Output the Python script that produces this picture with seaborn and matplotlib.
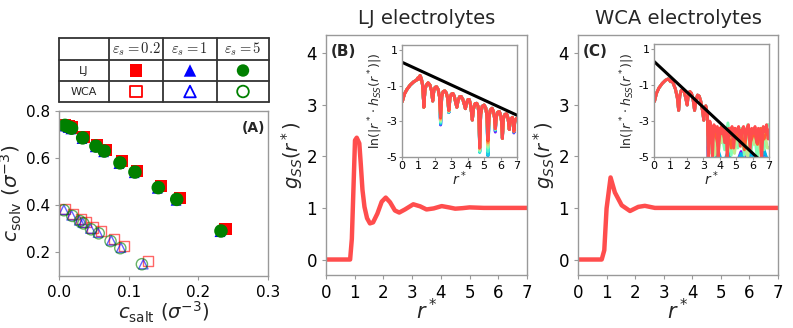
import numpy as np
import pandas as pd
import matplotlib
matplotlib.use('Agg')
import matplotlib.pyplot as plt
import seaborn as sns

# ---------------- data ----------------
# panel A: solvent vs salt concentration
lj_x_02 = [0.009, 0.014, 0.019, 0.036, 0.055, 0.068, 0.091, 0.112, 0.146, 0.173, 0.239]
lj_y_02 = [0.742, 0.736, 0.730, 0.690, 0.655, 0.635, 0.586, 0.546, 0.481, 0.432, 0.300]
lj_x_1 = [0.008, 0.013, 0.017, 0.033, 0.052, 0.064, 0.086, 0.108, 0.141, 0.168, 0.231]
lj_y_1 = [0.736, 0.730, 0.724, 0.683, 0.648, 0.627, 0.577, 0.538, 0.472, 0.421, 0.288]
lj_x_5 = [0.0086, 0.0134, 0.018, 0.034, 0.053, 0.065, 0.0875, 0.109, 0.1425, 0.169, 0.2325]
lj_y_5 = [0.739, 0.733, 0.727, 0.686, 0.651, 0.630, 0.580, 0.541, 0.475, 0.425, 0.291]

wca_x_02 = [0.009, 0.020, 0.032, 0.038, 0.048, 0.060, 0.079, 0.093, 0.128]
wca_y_02 = [0.385, 0.362, 0.341, 0.330, 0.306, 0.290, 0.258, 0.226, 0.163]
wca_x_1 = [0.007, 0.018, 0.029, 0.034, 0.045, 0.056, 0.075, 0.089, 0.121]
wca_y_1 = [0.381, 0.357, 0.336, 0.326, 0.301, 0.284, 0.251, 0.220, 0.150]
wca_x_5 = [0.007, 0.019, 0.030, 0.035, 0.046, 0.057, 0.074, 0.088, 0.119]
wca_y_5 = [0.379, 0.355, 0.333, 0.323, 0.298, 0.281, 0.248, 0.218, 0.150]

eps_labels = [r'$\boldsymbol{\varepsilon}_s = 0.2$', r'$\boldsymbol{\varepsilon}_s = 1$',
              r'$\boldsymbol{\varepsilon}_s = 5$']
row_labels = ['LJ', 'WCA']
eps_colors = ['red', 'blue', 'green']
eps_markers = ['s', '^', 'o']

# panel B: g(r) for LJ
g_lj_r = [0.0, 0.84, 0.90, 1.01, 1.07, 1.16, 1.21, 1.27, 1.34, 1.43, 1.53, 1.64, 1.79, 1.94, 2.08,
          2.23, 2.40, 2.55, 2.75, 3.04, 3.28, 3.50, 3.75, 4.03, 4.28, 4.50, 4.75, 5.0, 5.5, 6.0, 7.0]
g_lj_g = [0.0, 0.0, 0.40, 2.31, 2.36, 2.25, 1.86, 1.35, 1.02, 0.80, 0.70, 0.72, 0.89, 1.12, 1.20,
          1.11, 0.95, 0.91, 0.97, 1.07, 1.03, 0.97, 0.99, 1.035, 1.01, 0.985, 0.995, 1.01, 1.0, 1.0, 1.0]

# panel C: g(r) for WCA
g_wca_r = [0.0, 0.83, 0.92, 1.00, 1.14, 1.29, 1.53, 1.82, 2.11, 2.34, 2.69, 3.0, 4.0, 7.0]
g_wca_g = [0.0, 0.0, 0.18, 0.99, 1.59, 1.30, 1.05, 0.94, 1.02, 1.04, 1.0, 1.0, 1.0, 1.0]

# inset B: ln|r h(r)| for LJ (top curve)
ln_lj_r = [0.02, 0.15, 0.3, 0.5, 0.7, 0.9, 0.97, 1.02, 1.1, 1.18, 1.26, 1.33, 1.40, 1.48, 1.59,
           1.70, 1.79, 1.87, 1.94, 2.02, 2.10, 2.20, 2.28, 2.35, 2.42, 2.50, 2.60, 2.70, 2.78,
           2.85, 2.92, 3.0, 3.10, 3.19, 3.27, 3.34, 3.41, 3.50, 3.60, 3.70, 3.78, 3.86, 3.93,
           4.02, 4.10, 4.18, 4.23, 4.28, 4.35, 4.45, 4.55, 4.63, 4.68, 4.73, 4.79, 4.88, 5.0,
           5.10, 5.17, 5.23, 5.30, 5.38, 5.48, 5.57, 5.63, 5.68, 5.74, 5.83, 5.93, 6.02, 6.07,
           6.11, 6.17, 6.27, 6.37, 6.45, 6.49, 6.53, 6.60, 6.72, 6.77, 6.81, 6.86, 6.94, 7.0]
ln_lj_v = [-1.88, -1.45, -1.2, -0.95, -0.78, -0.66, -0.55, -0.62, -0.42, -0.6, -1.0, -2.2, -1.2,
           -0.95, -0.83, -0.95, -1.25, -1.85, -1.25, -1.08, -1.05, -1.2, -1.6, -2.73, -1.6, -1.33,
           -1.28, -1.4, -1.7, -2.38, -1.7, -1.47, -1.43, -1.6, -1.95, -2.2, -1.85, -1.62, -1.6,
           -1.75, -2.0, -2.28, -1.95, -1.77, -1.78, -2.1, -2.5, -2.92, -2.3, -2.0, -1.98, -2.15,
           -2.6, -4.5, -2.6, -2.15, -2.08, -2.25, -2.7, -4.0, -2.75, -2.35, -2.26, -2.45, -2.8,
           -3.4, -2.75, -2.48, -2.45, -2.7, -3.1, -3.95, -2.85, -2.6, -2.58, -2.8, -3.1, -3.45,
           -2.9, -2.77, -3.05, -3.55, -3.05, -2.85, -2.82]
lj_dip_r = [2.35, 2.85, 4.73, 5.23, 5.68, 6.81]
lj_dip_v = [
    [-3.20, -3.18, -3.15, -3.10, -3.05, -3.00, -2.95, -2.90, -2.85, -2.80],
    [-2.50, -2.50, -2.50, -2.48, -2.47, -2.45, -2.43, -2.41, -2.40, -2.38],
    [-4.60, -4.65, -4.70, -4.75, -4.70, -4.65, -4.60, -4.55, -4.50, -4.48],
    [-4.70, -4.85, -4.95, -4.90, -4.70, -4.50, -4.40, -4.30, -4.20, -4.10],
    [-3.60, -3.55, -3.50, -3.48, -3.45, -3.45, -3.42, -3.42, -3.40, -3.40],
    [-3.65, -3.62, -3.60, -3.58, -3.56, -3.55, -3.55, -3.55, -3.55, -3.55],
]
lj_fit_r = [0.0, 7.0]
lj_fit_v = [0.33, -2.65]

# inset C: ln|r h(r)| for WCA (top curve)
ln_wca_r = [0.03, 0.15, 0.3, 0.5, 0.7, 0.85, 0.95, 1.0, 1.05, 1.15, 1.3, 1.42, 1.5, 1.57, 1.65,
            1.75, 1.85, 1.95, 2.02, 2.08, 2.18, 2.28, 2.38, 2.47, 2.55, 2.65, 2.75, 2.85, 2.95,
            3.03, 3.1, 3.15, 3.25, 3.3, 3.4, 3.5, 3.55, 3.65, 3.75, 3.85, 3.9, 4.0, 4.1, 4.2,
            4.3, 4.4, 4.45, 4.55, 4.65, 4.75, 4.85, 4.95, 5.05, 5.15, 5.25, 5.35, 5.45, 5.55,
            5.65, 5.75, 5.85, 5.95, 6.05, 6.15, 6.25, 6.35, 6.45, 6.55, 6.65, 6.75, 6.85, 6.95, 7.0]
ln_wca_v = [-1.9, -1.45, -1.15, -0.9, -0.72, -0.65, -0.72, -0.8, -0.72, -0.85, -1.2, -1.7, -2.4,
            -1.6, -1.3, -1.22, -1.4, -1.8, -2.1, -1.6, -1.35, -1.45, -1.8, -2.4, -1.85, -1.55,
            -1.6, -1.9, -2.4, -2.95, -2.3, -2.15, -2.6, -5.2, -3.0, -3.4, -5.2, -3.2, -3.6, -3.3,
            -5.2, -3.4, -3.7, -3.3, -4.2, -3.5, -5.2, -3.4, -3.8, -3.3, -4.5, -3.4, -3.6, -3.3,
            -4.4, -3.5, -3.3, -4.0, -3.4, -3.2, -4.6, -3.4, -3.7, -3.3, -4.2, -3.4, -3.5, -5.2,
            -3.3, -3.6, -3.2, -4.0, -3.5]
wca_noise_r = [3.3, 3.5, 3.7, 3.9, 4.1, 4.3, 4.5, 4.7, 4.9, 5.1, 5.3, 5.5, 5.7, 5.9, 6.1, 6.3,
               6.5, 6.7, 6.9]
wca_noise_idx = [0, 2, 4, 5, 7]
wca_noise_v = [
    [-5.2, -5.2, -5.2, -5.2, -5.2, -5.2, -5.2, -5.2, -5.2, -5.2, -4.7, -5.2, -4.8, -5.2, -5.2, -5.2, -5.2, -4.7, -5.2],
    [-5.2, -5.2, -5.2, -4.6, -5.2, -5.2, -4.7, -5.2, -5.2, -5.2, -4.8, -5.2, -5.2, -4.7, -5.2, -5.2, -5.2, -4.6, -5.2],
    [-3.6, -4.8, -3.4, -4.9, -3.5, -4.6, -3.1, -4.9, -3.6, -4.5, -3.4, -4.9, -3.2, -4.7, -3.5, -5.2, -3.4, -4.6, -3.2],
    [-4.4, -3.5, -4.9, -3.6, -4.2, -3.4, -4.7, -3.7, -4.8, -3.5, -4.4, -3.6, -5.1, -3.5, -4.3, -3.7, -4.8, -3.4, -4.5],
    [-3.8, -4.2, -3.5, -4.4, -3.3, -4.0, -3.6, -4.5, -3.4, -3.9, -3.5, -4.6, -3.3, -4.1, -3.6, -4.3, -3.4, -4.0, -3.5],
]
wca_fit_r = [0.0, 7.0]
wca_fit_v = [0.33, -5.64]

# ---------------- style ----------------
sns.set_style('white')
plt.rcParams['font.family'] = ['DejaVu Sans']
plt.rcParams['axes.unicode_minus'] = False
plt.rcParams['axes.edgecolor'] = '#999999'
plt.rcParams['axes.linewidth'] = 1.0
plt.rcParams['xtick.bottom'] = True
plt.rcParams['ytick.left'] = True
plt.rcParams['xtick.color'] = '#999999'
plt.rcParams['ytick.color'] = '#999999'
plt.rcParams['xtick.labelcolor'] = 'black'
plt.rcParams['ytick.labelcolor'] = 'black'
plt.rcParams['xtick.major.size'] = 3
plt.rcParams['ytick.major.size'] = 3

W, H = 793, 328
fig = plt.figure(figsize=(W / 100, H / 100), dpi=100)


def box(l, t, r, b):
    return [l / W, 1 - b / H, (r - l) / W, (b - t) / H]


red_line = '#ff4d4d'

# ---------------- panel A ----------------
axA = fig.add_axes(box(59, 111, 268, 276))
lj_sets = [(lj_x_02, lj_y_02), (lj_x_1, lj_y_1), (lj_x_5, lj_y_5)]
wca_sets = [(wca_x_02, wca_y_02), (wca_x_1, wca_y_1), (wca_x_5, wca_y_5)]
sizes_f = [75, 60, 95]
sizes_o = [55, 45, 65]
for (xs, ys), c, m, s in zip(wca_sets, eps_colors, eps_markers, sizes_o):
    sns.scatterplot(x=xs, y=ys, marker=m, s=s, facecolors='none', edgecolors=c,
                    linewidth=1.0, alpha=0.6, ax=axA)
for (xs, ys), c, m, s in zip(lj_sets, eps_colors, eps_markers, sizes_f):
    sns.scatterplot(x=xs, y=ys, marker=m, s=s, color=c, edgecolor='none', ax=axA)
axA.set_xlim(0, 0.3)
axA.set_ylim(0.1, 0.8)
axA.set_xticks([0.0, 0.1, 0.2, 0.3])
axA.set_yticks([0.2, 0.4, 0.6, 0.8])
axA.tick_params(labelsize=11)
axA.set_xlabel(r'$c_{\rm salt}$ $(\sigma^{-3})$', fontsize=14, labelpad=0)
axA.set_ylabel(r'$c_{\rm solv}$ $(\sigma^{-3})$', fontsize=14.5, labelpad=1)
axA.text(0.93, 0.9, '(A)', transform=axA.transAxes, ha='center', va='center',
         fontsize=10, fontweight='bold')

# legend table above panel A
axT = fig.add_axes(box(59, 38, 269, 102))
col_edges = [0, 50, 104, 158, 210]
row_edges = [0, 22, 43, 64]
axT.set_xlim(0, 210)
axT.set_ylim(64, 0)
axT.axis('off')
for xe in col_edges:
    axT.plot([xe, xe], [0, 64], color='#333333', lw=1.3, clip_on=False)
for ye in row_edges:
    axT.plot([0, 210], [ye, ye], color='#333333', lw=1.3, clip_on=False)
col_c = [(col_edges[i] + col_edges[i + 1]) / 2 for i in range(4)]
row_c = [(row_edges[i] + row_edges[i + 1]) / 2 for i in range(3)]
for j, lab in enumerate(eps_labels):
    axT.text(col_c[j + 1], row_c[0], lab, ha='center', va='center', fontsize=10.5,
             math_fontfamily='cm')
for i, lab in enumerate(row_labels):
    axT.text(col_c[0], row_c[i + 1], lab, ha='center', va='center', fontsize=8)
for j, (c, m) in enumerate(zip(eps_colors, eps_markers)):
    axT.scatter([col_c[j + 1]], [row_c[1]], marker=m, s=80, color=c, edgecolors='none')
    axT.scatter([col_c[j + 1]], [row_c[2]], marker=m, s=70, facecolors='none',
                edgecolors=c, linewidths=1.3)


# ---------------- panels B and C ----------------
def main_panel(rect, r, g, title, label):
    ax = fig.add_axes(rect)
    sns.lineplot(x=r, y=g, color=red_line, lw=3.2, sort=False, estimator=None, ax=ax)
    ax.set_xlim(0, 7)
    ax.set_ylim(-0.3, 4.35)
    ax.set_xticks(range(8))
    ax.set_yticks(range(5))
    ax.tick_params(labelsize=12)
    ax.set_xlabel(r'$r^*$', fontsize=15, labelpad=-3)
    ax.set_ylabel(r'$g_{SS}(r^*)$', fontsize=14, labelpad=1)
    ax.set_title(title, fontsize=14, pad=8)
    ax.text(0.085, 0.93, label, transform=ax.transAxes, ha='center', va='center',
            fontsize=11, fontweight='bold')
    return ax


def inset(rect, curves, fit_r, fit_v):
    ax = fig.add_axes(rect)
    ax.set_facecolor('white')
    for (r, v, c) in curves:
        sns.lineplot(x=r, y=v, color=c, lw=2.1, sort=False, estimator=None, ax=ax)
    sns.lineplot(x=fit_r, y=fit_v, color='black', lw=2.2, sort=False, estimator=None, ax=ax)
    ax.set_xlim(0, 7)
    ax.set_ylim(-5, 1.3)
    ax.set_xticks(range(8))
    ax.set_yticks([1, -1, -3, -5])
    ax.tick_params(labelsize=8, length=2, pad=1)
    ax.set_xlabel(r'$r^*$', fontsize=10, labelpad=-1)
    ax.set_ylabel(r'$\ln(|r^* \cdot h_{SS}(r^*)|)$', fontsize=9, labelpad=1)
    return ax


axB = main_panel(box(326, 35, 527, 275), g_lj_r, g_lj_g, 'LJ electrolytes', '(B)')
axC = main_panel(box(578, 35, 778, 275), g_wca_r, g_wca_g, 'WCA electrolytes', '(C)')

# LJ inset curves: lower-concentration curves only differ at the cusps
cmap = plt.get_cmap('rainbow')
n_lj = 11
lj_curves = []
for k in range(n_lj - 1):
    v = list(ln_lj_v)
    for dr, dv in zip(lj_dip_r, lj_dip_v):
        idx = int(np.argmin(np.abs(np.array(ln_lj_r) - dr)))
        v[idx] = dv[k]
    lj_curves.append((ln_lj_r, v, cmap(k / (n_lj - 1))))
lj_curves.append((ln_lj_r, ln_lj_v, red_line))
inset(box(402, 45, 517, 157), lj_curves, lj_fit_r, lj_fit_v)

n_wca = 9
wca_curves = []
cut = ln_wca_r.index(3.25)
for k, nv in zip(wca_noise_idx, wca_noise_v):
    r = ln_wca_r[:cut + 1] + wca_noise_r + [7.0]
    v = ln_wca_v[:cut + 1] + nv + [nv[-1]]
    wca_curves.append((r, v, cmap(k / (n_wca - 1))))
wca_curves.append((ln_wca_r, ln_wca_v, red_line))
inset(box(654, 44, 769, 157), wca_curves, wca_fit_r, wca_fit_v)

fig.savefig('out.png', dpi=100)
